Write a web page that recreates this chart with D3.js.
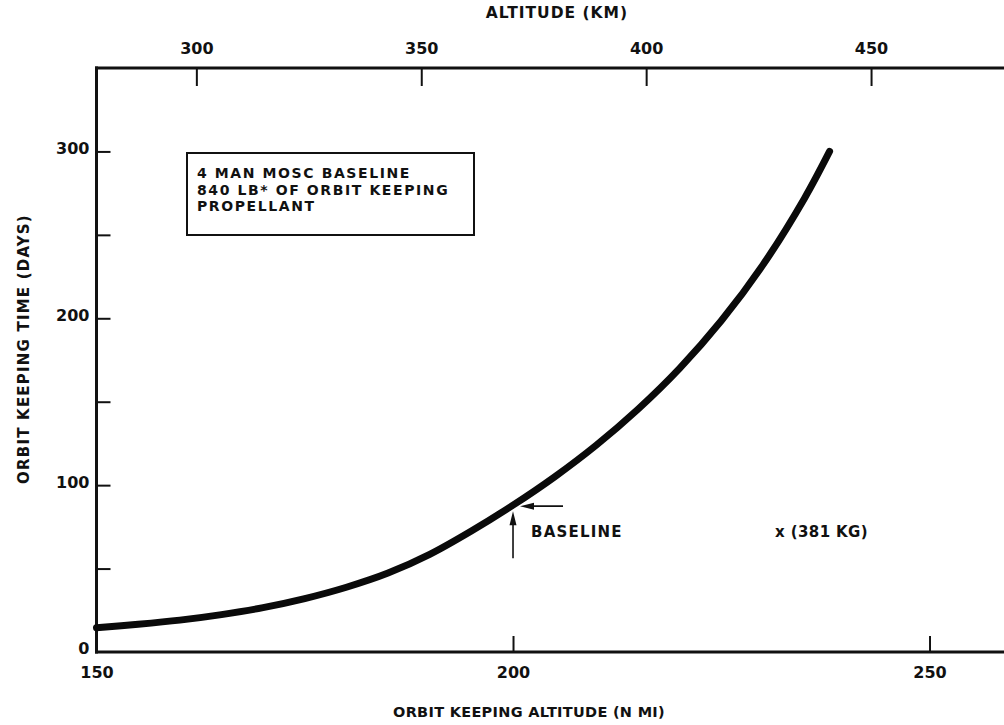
<!DOCTYPE html>
<html>
<head>
<meta charset="utf-8">
<script src="https://cdn.jsdelivr.net/npm/d3@7"></script>
<style>
  html, body { margin: 0; padding: 0; background: #fff; }
  svg { display: block; }
  text { font-family: "DejaVu Sans", "Liberation Sans", sans-serif; font-weight: bold; fill: #111; }
</style>
</head>
<body>
<script>
// Orbit keeping time versus altitude for the 4-man MOSC baseline
const altitudeNmi = [150, 155, 160, 165, 170, 175, 180, 185, 190, 195, 200, 205, 210, 215, 220, 225, 230, 235, 238];
const keepingDays = [14.5, 16.6, 19.1, 22.4, 26.6, 32, 38.8, 47.3, 58.5, 72.5, 88, 105, 124, 145.5, 170, 198.5, 232, 272, 300];

const nmiTicks = [150, 200, 250];
const kmTicks = [300, 350, 400, 450];
const dayTicks = [50, 100, 150, 200, 250, 300];
const dayLabels = [0, 100, 200, 300];

const noteLines = ["4 MAN MOSC BASELINE", "840 LB* OF ORBIT KEEPING", "PROPELLANT"];
const baselinePoint = { nmi: 200, days: 88, label: "BASELINE" };
const massNote = "x (381 KG)";

const KM_PER_NMI = 1.852;
const W = 1004, H = 725;

const svg = d3.select("body").append("svg").attr("width", W).attr("height", H);

const x = d3.scaleLinear().domain([150, 259]).range([96.5, 1004.5]);
const y = d3.scaleLinear().domain([0, 350]).range([652, 68]);
const xKm = d3.scaleLinear().domain(x.domain().map(d => d * KM_PER_NMI)).range(x.range());

// Bottom axis: nautical miles, ticks pointing up into the plot
const gBottom = svg.append("g").attr("transform", `translate(0,${y(0)})`)
  .call(d3.axisBottom(x).tickValues(nmiTicks).tickSizeInner(-16).tickSizeOuter(0).tickPadding(15).tickFormat(d3.format("d")));

// Top axis: kilometres, ticks hanging down into the plot
const gTop = svg.append("g").attr("transform", `translate(0,${y(350)})`)
  .call(d3.axisTop(xKm).tickValues(kmTicks).tickSizeInner(-18).tickSizeOuter(0).tickPadding(14).tickFormat(d3.format("d")));

// Left axis: days
const gLeft = svg.append("g").attr("transform", `translate(${x(150)},0)`)
  .call(d3.axisLeft(y).tickValues(dayTicks.concat([0])).tickSizeInner(-14).tickSizeOuter(0).tickPadding(7)
    .tickFormat(d => dayLabels.includes(d) ? d3.format("d")(d) : ""));

[gBottom, gTop, gLeft].forEach(g => {
  g.select(".domain").remove();
  g.selectAll(".tick line").attr("stroke", "#111").attr("stroke-width", 2);
  g.selectAll(".tick text").attr("font-size", 16).attr("fill", "#111");
});
gLeft.selectAll(".tick text").attr("dy", "0.12em");
gLeft.selectAll(".tick").filter(d => d === 0).select("line").remove();
gBottom.selectAll(".tick").filter(d => d === 150).select("line").remove();

// Frame: left, top and bottom rules
const frame = svg.append("g").attr("stroke", "#111").attr("stroke-width", 3).attr("fill", "none");
frame.append("line").attr("x1", x(150)).attr("x2", x(150)).attr("y1", y(350) - 1.5).attr("y2", y(0) + 1.5);
frame.append("line").attr("x1", x(150) - 1.5).attr("x2", W).attr("y1", y(350)).attr("y2", y(350));
frame.append("line").attr("x1", x(150) - 1.5).attr("x2", W).attr("y1", y(0)).attr("y2", y(0));

// Axis titles
svg.append("text").attr("x", 557).attr("y", 18).attr("text-anchor", "middle")
  .attr("font-size", 15.5).attr("letter-spacing", 1).text("ALTITUDE (KM)");
svg.append("text").attr("x", 529).attr("y", 717).attr("text-anchor", "middle")
  .attr("font-size", 14.5).attr("letter-spacing", 0.3).text("ORBIT KEEPING ALTITUDE (N MI)");
svg.append("text").attr("transform", "translate(29,349) rotate(-90)").attr("text-anchor", "middle")
  .attr("font-size", 15).attr("letter-spacing", 1.2).text("ORBIT KEEPING TIME (DAYS)");

// Curve
const line = d3.line().x((d, i) => x(altitudeNmi[i])).y(d => y(d)).curve(d3.curveCatmullRom.alpha(0.5));
svg.append("path").datum(keepingDays).attr("d", line)
  .attr("fill", "none").attr("stroke", "#0a0a0a").attr("stroke-width", 7)
  .attr("stroke-linecap", "round").attr("stroke-linejoin", "round");

// Note box
const note = svg.append("g");
note.append("rect").attr("x", 187).attr("y", 153).attr("width", 287).attr("height", 82)
  .attr("fill", "none").attr("stroke", "#111").attr("stroke-width", 2);
note.selectAll("text").data(noteLines).join("text")
  .attr("x", 197).attr("y", (d, i) => 178 + i * 16.5)
  .attr("font-size", 14).attr("letter-spacing", 1.6).text(d => d);

// Baseline arrows
const bx = x(baselinePoint.nmi), by = y(baselinePoint.days);
const arrows = svg.append("g").attr("stroke", "#111").attr("fill", "#111");
arrows.append("line").attr("x1", bx).attr("x2", bx).attr("y1", by + 53).attr("y2", by + 16).attr("stroke-width", 1.6);
arrows.append("path").attr("stroke", "none")
  .attr("d", `M${bx},${by + 6} L${bx - 3.5},${by + 20} L${bx + 3.5},${by + 20} Z`);
arrows.append("line").attr("x1", bx + 50).attr("x2", bx + 18).attr("y1", by + 1).attr("y2", by + 1).attr("stroke-width", 1.6);
arrows.append("path").attr("stroke", "none")
  .attr("d", `M${bx + 7},${by + 1} L${bx + 21},${by - 2.5} L${bx + 21},${by + 4.5} Z`);

svg.append("text").attr("x", bx + 18).attr("y", by + 32)
  .attr("font-size", 15).attr("letter-spacing", 1.2).text(baselinePoint.label);
svg.append("text").attr("x", 775).attr("y", by + 32)
  .attr("font-size", 15).attr("letter-spacing", 0.4).text(massNote);
</script>
</body>
</html>
